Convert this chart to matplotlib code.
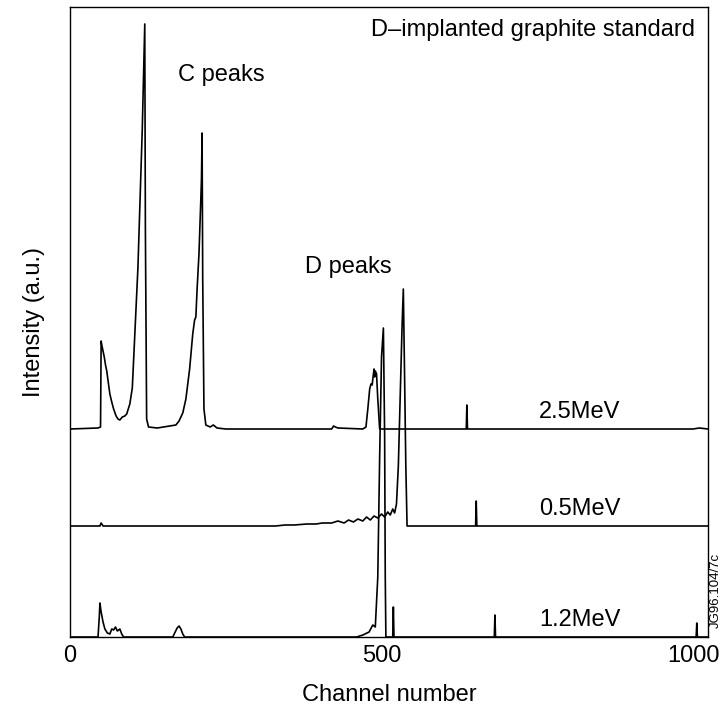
import matplotlib.pyplot as plt

plt.rcParams['font.family'] = ['Liberation Sans', 'DejaVu Sans']

# 2.5 MeV spectrum (channel, counts a.u.)
ch_25 = [0, 45, 49, 50, 51, 53, 55, 57, 59, 62, 64, 67, 70, 74, 77, 80, 84, 88, 91,
         96, 100, 109, 116, 120, 121, 123, 126, 140, 150, 160, 170, 175, 181, 186,
         192, 197, 200, 202, 204, 207, 210, 211, 212, 213, 215, 218, 225, 230, 236,
         250, 420, 423, 426, 430, 470, 475, 478, 481, 483, 485, 486, 488, 489, 490,
         492, 494, 497, 636, 637, 638, 1000, 1010, 1024]
y_25 = [0, 1, 2, 88, 84, 78, 72, 64, 58, 44, 35, 27, 20, 13, 10, 9, 12, 13, 15,
        25, 41, 161, 300, 405, 200, 10, 2, 1, 2, 3, 4, 8, 16, 30,
        60, 95, 109, 112, 140, 175, 230, 250, 296, 150, 20, 4, 2, 4, 1,
        0, 0, 3, 2, 1, 0, 2, 20, 40, 45, 44, 50, 60, 52, 58,
        55, 30, 0, 0, 24, 0, 0, 1, 0]

# 0.5 MeV spectrum
ch_05 = [0, 48, 50, 53, 330, 345, 360, 380, 395, 405, 420, 430, 440, 447, 455, 462,
         470, 476, 482, 488, 494, 500, 505, 510, 514, 518, 521, 524, 527, 530, 533,
         535, 537, 539, 541, 651, 652, 653, 1024]
y_05 = [0, 0, 3, 0, 0, 1, 1, 2, 2, 3, 3, 5, 3, 6, 4, 7,
        5, 9, 6, 10, 8, 12, 9, 14, 11, 17, 13, 22, 60, 130, 200,
        237, 150, 60, 0, 0, 25, 0, 0]

# 1.2 MeV spectrum
ch_12 = [0, 45, 47, 48, 50, 53, 56, 60, 64, 67, 70, 73, 76, 80, 83, 86, 165, 168,
         172, 175, 178, 181, 184, 460, 470, 480, 486, 490, 494, 497, 500, 503, 505,
         506, 507, 518, 519, 520, 681, 682, 683, 1005, 1006, 1007, 1024]
y_12 = [0, 0, 20, 34, 25, 15, 8, 4, 3, 8, 7, 10, 6, 8, 3, 0, 0, 4,
        9, 11, 8, 3, 0, 0, 2, 5, 12, 10, 60, 180, 280, 309, 200,
        60, 0, 0, 30, 0, 0, 22, 0, 0, 14, 0, 0]

energies = ['2.5MeV', '0.5MeV', '1.2MeV']
offsets = [208, 111, 0]

fig = plt.figure(figsize=(7.25, 7.06), dpi=100)
ax = fig.add_axes([70 / 725, 1 - 637 / 706, 638 / 725, 630 / 706])

for (ch, y), off in zip([(ch_25, y_25), (ch_05, y_05), (ch_12, y_12)], offsets):
    ax.plot(ch, [v + off for v in y], color='black', lw=1.2)

ax.set_xlim(0, 1024)
ax.set_ylim(0, 630)
ax.set_xticks([0, 500, 1000])
ax.set_yticks([])
ax.tick_params(axis='x', length=0, labelsize=17, pad=6)
for sp in ax.spines.values():
    sp.set_linewidth(1.0)
ax.set_xlabel('Channel number', fontsize=17, labelpad=12)
ax.set_ylabel('Intensity (a.u.)', fontsize=17, labelpad=18)

ax.text(1003, 607, 'D\u2013implanted graphite standard', fontsize=17, ha='right', va='center')
ax.text(173, 562, 'C peaks', fontsize=17, ha='left', va='center')
ax.text(377, 370, 'D peaks', fontsize=17, ha='left', va='center')
for lab, off in zip(energies, offsets):
    ax.text(753, off + 17, lab, fontsize=17, ha='left', va='center')

fig.text(0.996, 1 - 590 / 706, 'JG96.104/7c', fontsize=9.5, rotation=90, ha='right', va='center')

fig.savefig('out.png', dpi=100)
